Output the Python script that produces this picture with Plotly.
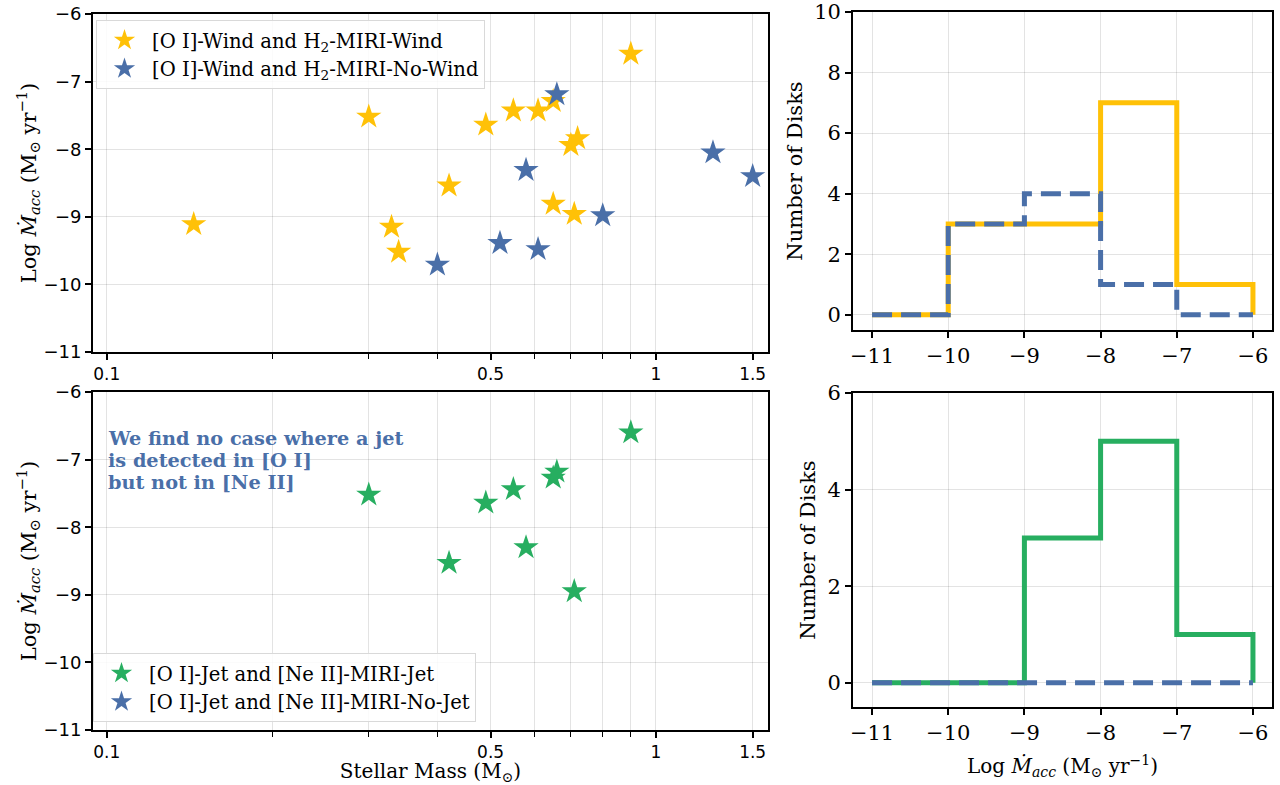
import numpy as np
import plotly.graph_objects as go

# top panel: [O I] wind vs H2 MIRI wind
wind_wind_mass = [0.90, 0.30, 0.49, 0.55, 0.61, 0.65, 0.70, 0.72, 0.42, 0.144, 0.33, 0.34, 0.65, 0.71]
wind_wind_macc = [-6.59, -7.52, -7.64, -7.43, -7.43, -7.29, -7.94, -7.84, -8.54, -9.11, -9.15, -9.52, -8.81, -8.96]
wind_nowind_mass = [0.66, 0.58, 1.27, 1.50, 0.80, 0.52, 0.61, 0.40]
wind_nowind_macc = [-7.19, -8.31, -8.05, -8.40, -8.98, -9.39, -9.48, -9.71]

# bottom panel: [O I] jet vs [Ne II] MIRI jet
jet_jet_mass = [0.90, 0.30, 0.49, 0.55, 0.65, 0.66, 0.58, 0.42, 0.71]
jet_jet_macc = [-6.60, -7.52, -7.64, -7.44, -7.27, -7.18, -8.30, -8.53, -8.95]
jet_nojet_mass = []
jet_nojet_macc = []

bins = [-11, -10, -9, -8, -7, -6]
mass_ticks = [0.1, 0.5, 1, 1.5]
mass_minor = [0.2, 0.3, 0.4, 0.6, 0.7, 0.8, 0.9]

note_lines = ["We find no case where a jet", "is detected in [O I]", "but not in [Ne II]"]

yellow = "#FFC107"
blue = "#4A6FA8"
green = "#27AE60"
grid = "rgba(0,0,0,0.11)"

macc_title = "Log <i>Ṁ</i><sub><i>acc</i></sub> (M<sub>⊙</sub> yr<sup>−1</sup>)"

W, H = 1280, 785


def px(x):
    return x / W


def py(y):
    return 1 - y / H


def step(values):
    counts, edges = np.histogram(values, bins=bins)
    xs = [edges[0]] + list(edges)
    ys = [0] + list(counts) + [0]
    return xs, ys


fig = go.Figure()

star = dict(symbol="star", size=19, line=dict(width=0))

fig.add_trace(go.Scatter(x=wind_wind_mass, y=wind_wind_macc, mode="markers",
                         marker=dict(color=yellow, **star),
                         name="[O I]-Wind and H<sub>2</sub>-MIRI-Wind",
                         xaxis="x", yaxis="y", legend="legend"))
fig.add_trace(go.Scatter(x=wind_nowind_mass, y=wind_nowind_macc, mode="markers",
                         marker=dict(color=blue, **star),
                         name="[O I]-Wind and H<sub>2</sub>-MIRI-No-Wind",
                         xaxis="x", yaxis="y", legend="legend"))

fig.add_trace(go.Scatter(x=jet_jet_mass, y=jet_jet_macc, mode="markers",
                         marker=dict(color=green, **star),
                         name="[O I]-Jet and [Ne II]-MIRI-Jet",
                         xaxis="x3", yaxis="y3", legend="legend2"))
fig.add_trace(go.Scatter(x=jet_nojet_mass if jet_nojet_mass else [None],
                         y=jet_nojet_macc if jet_nojet_macc else [None], mode="markers",
                         marker=dict(color=blue, **star),
                         name="[O I]-Jet and [Ne II]-MIRI-No-Jet",
                         xaxis="x3", yaxis="y3", legend="legend2"))

# histograms
for vals, col, dash, xa, ya in [
    (wind_wind_macc, yellow, "solid", "x2", "y2"),
    (wind_nowind_macc, blue, "20px,9px", "x2", "y2"),
    (jet_jet_macc, green, "solid", "x4", "y4"),
    (jet_nojet_macc, blue, "20px,9px", "x4", "y4"),
]:
    xs, ys = step(vals)
    fig.add_trace(go.Scatter(x=xs, y=ys, mode="lines", line_shape="hv",
                             line=dict(color=col, width=5, dash=dash),
                             showlegend=False, xaxis=xa, yaxis=ya))

box = dict(showline=True, linecolor="black", linewidth=1.8, mirror=True,
           ticks="outside", ticklen=6, tickwidth=1.5, tickcolor="black",
           showgrid=True, gridcolor=grid, gridwidth=1, zeroline=False,
           automargin=False, ticklabeloverflow="allow")

left_dom = [px(93), px(768)]
right_dom = [px(853), px(1272)]

mass_axis = dict(box, type="log", range=[-1.025, 0.204], domain=left_dom,
                 tickvals=mass_ticks, ticktext=["0.1", "0.5", "1", "1.5"],
                 tickfont=dict(family="DejaVu Sans", size=17),
                 minor=dict(tickvals=mass_minor, ticks="outside", ticklen=5,
                            tickwidth=1.2, tickcolor="black", showgrid=True,
                            gridcolor=grid))
macc_axis = dict(box, range=[-11, -6], dtick=1,
                 tickfont=dict(family="DejaVu Sans", size=18),
                 title=dict(text=macc_title, standoff=0, font=dict(size=21)))
hist_x = dict(box, range=[-11.25, -5.75], domain=right_dom, tickvals=bins,
              tickfont=dict(family="DejaVu Serif", size=21))
hist_y = dict(box, dtick=2, tickfont=dict(family="DejaVu Serif", size=21),
              title=dict(text="Number of Disks", standoff=6, font=dict(size=21)))

fig.update_layout(
    width=W, height=H,
    margin=dict(l=0, r=0, t=0, b=0),
    paper_bgcolor="white", plot_bgcolor="white",
    font=dict(family="DejaVu Serif", size=20, color="black"),
    xaxis=dict(mass_axis, anchor="y"),
    yaxis=dict(macc_axis, domain=[py(352), py(14)], anchor="x"),
    xaxis3=dict(mass_axis, anchor="y3",
                title=dict(text="Stellar Mass (M<sub>⊙</sub>)", standoff=6, font=dict(size=20))),
    yaxis3=dict(macc_axis, domain=[py(730), py(392)], anchor="x3"),
    xaxis2=dict(hist_x, anchor="y2"),
    yaxis2=dict(hist_y, range=[-0.5, 10], domain=[py(330), py(12)], anchor="x2"),
    xaxis4=dict(hist_x, anchor="y4",
                title=dict(text=macc_title, standoff=15, font=dict(size=20))),
    yaxis4=dict(hist_y, range=[-0.5, 6], domain=[py(707), py(393)], anchor="x4"),
    legend=dict(x=px(96), y=py(20), xanchor="left", yanchor="top", itemwidth=45,
                bgcolor="rgba(255,255,255,0.85)", bordercolor="#d9d9d9", borderwidth=1,
                font=dict(family="DejaVu Serif", size=19.6)),
    legend2=dict(x=px(93), y=py(722), xanchor="left", yanchor="bottom", itemwidth=45,
                 bgcolor="rgba(255,255,255,0.85)", bordercolor="#d9d9d9", borderwidth=1,
                 font=dict(family="DejaVu Serif", size=19.6)),
)

for i, line in enumerate(note_lines):
    fig.add_annotation(
        text="<b>" + line + "</b>",
        xref="paper", yref="paper", x=px(106), y=py(438 + 22 * i),
        xanchor="left", yanchor="middle", align="left", showarrow=False,
        font=dict(family="DejaVu Serif", size=19.3, color=blue),
    )

# drop the default page margin so the figure fills the window
fig.write_html("out.html", config={"displayModeBar": False},
               post_script="document.body.style.margin = '0';")
